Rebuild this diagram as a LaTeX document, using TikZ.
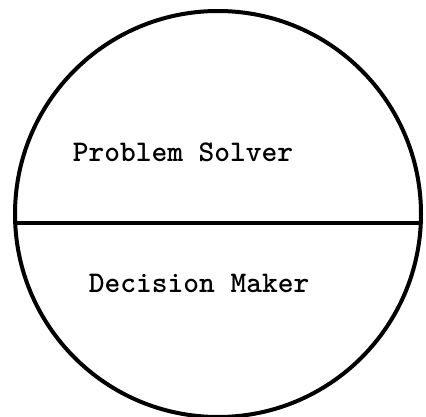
\documentclass[tikz,border=0pt]{standalone}
\begin{document}
\begin{tikzpicture}[x=1pt,y=-1pt,
  outline/.style={draw=black,line width=4pt,circle,minimum size=406pt,inner sep=0pt},
  divider/.style={draw=black,line width=3.2pt},
  label/.style={font=\fontsize{30}{30}\selectfont\ttfamily\bfseries,inner sep=0pt,anchor=base}]
\useasboundingbox (0,0) rectangle (426,417);
\node[outline] (c) at (218,214) {};
\coordinate (l) at (15.2,223);
\coordinate (r) at (420.8,223);
\draw[divider] (l) -- (r);
\node[label] (ps) at (183,162) {Problem Solver};
\node[label] (dm) at (199,292) {Decision Maker};
\end{tikzpicture}
\end{document}
